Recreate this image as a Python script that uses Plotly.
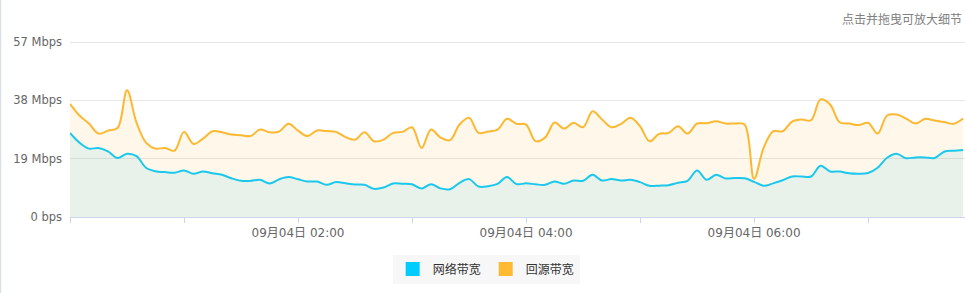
import plotly.graph_objects as go
import pandas as pd

# 5-minute samples, 09-04 00:00 .. 07:50
times = pd.date_range("2023-09-04 00:00", periods=95, freq="5min")

network_mbps = [
    27.42, 24.24, 22.28, 22.51, 21.39, 19.23, 20.64, 19.82, 16.05, 14.91,
    14.64, 14.41, 15.17, 14.09, 14.84, 14.25, 13.76, 12.61, 11.79, 11.79,
    12.12, 10.91, 12.28, 13.01, 12.28, 11.56, 11.56, 10.48, 11.37, 10.97,
    10.58, 10.48, 9.17, 9.60, 10.91, 10.81, 10.65, 9.27, 10.71, 9.34,
    9.07, 11.14, 12.35, 9.93, 10.06, 10.81, 13.01, 10.71, 10.97, 10.65,
    10.48, 11.56, 10.81, 11.89, 11.79, 13.76, 11.89, 12.35, 11.89, 12.12,
    11.37, 10.16, 10.22, 10.38, 11.14, 11.79, 15.17, 12.12, 13.76, 12.55,
    12.71, 12.61, 11.47, 10.16, 10.97, 11.96, 13.20, 13.20, 13.20, 16.71,
    14.84, 14.84, 14.25, 14.09, 14.32, 16.05, 19.33, 20.64, 19.16, 19.43,
    19.43, 19.23, 21.29, 21.62, 21.85,
]

origin_mbps = [
    36.92, 33.09, 30.47, 27.19, 28.17, 28.99, 41.28, 30.79, 24.24, 22.28,
    22.51, 21.62, 27.75, 23.82, 25.55, 27.94, 27.62, 26.86, 26.63, 26.37,
    28.50, 27.62, 27.84, 30.37, 28.17, 26.37, 28.17, 28.01, 27.75, 26.04,
    25.22, 27.62, 24.67, 25.22, 27.42, 27.75, 29.25, 22.51, 28.50, 25.88,
    25.06, 30.14, 32.33, 27.42, 27.84, 28.50, 32.00, 30.37, 30.14, 24.73,
    25.88, 30.79, 28.83, 30.70, 29.25, 34.49, 31.78, 29.25, 30.37, 32.33,
    29.58, 24.67, 27.09, 27.42, 29.58, 27.19, 30.47, 30.56, 31.22, 30.47,
    30.47, 30.14, 12.45, 22.51, 27.94, 27.94, 31.12, 31.78, 31.55, 38.33,
    36.69, 30.89, 30.47, 29.97, 30.70, 27.19, 33.09, 33.41, 32.10, 30.47,
    32.00, 31.45, 30.96, 30.37, 32.10,
]

series_names = ["网络带宽", "回源带宽"]
y_tick_vals = [0, 19, 38, 57]
y_tick_text = ["0 bps", "19 Mbps", "38 Mbps", "57 Mbps"]
x_tick_vals = pd.date_range("2023-09-04 00:00", periods=8, freq="1h")
x_tick_text = ["", "", "09月04日 02:00", "", "09月04日 04:00", "", "09月04日 06:00", ""]
subtitle = "点击并拖曳可放大细节"

BLUE = "#1bc8ed"
ORANGE = "#fdb831"
FONT = "DejaVu Sans, Noto Sans CJK SC, sans-serif"
CJK = "Noto Sans CJK SC, sans-serif"

fig = go.Figure()
fig.add_trace(go.Scatter(
    x=times, y=origin_mbps, mode="lines", name=series_names[1],
    line=dict(color=ORANGE, width=2, shape="spline", smoothing=1),
    fill="tozeroy", fillcolor="rgba(253,184,49,0.1)", showlegend=False,
    hoverinfo="skip",
))
fig.add_trace(go.Scatter(
    x=times, y=network_mbps, mode="lines", name=series_names[0],
    line=dict(color=BLUE, width=2, shape="spline", smoothing=1),
    fill="tozeroy", fillcolor="rgba(27,200,237,0.1)", showlegend=False,
    hoverinfo="skip",
))
# legend entries
fig.add_trace(go.Scatter(x=[None], y=[None], mode="markers", name=series_names[0],
                         marker=dict(symbol="square", size=14, color="#00ccff")))
fig.add_trace(go.Scatter(x=[None], y=[None], mode="markers", name=series_names[1],
                         marker=dict(symbol="square", size=14, color="#ffb933")))

TOP = 40
BOTTOM = 217
plot_w = 965 - 70
plot_h = BOTTOM - TOP

fig.update_layout(
    width=965, height=293,
    margin=dict(l=70, r=0, t=TOP, b=293 - BOTTOM),
    paper_bgcolor="white", plot_bgcolor="white",
    font=dict(family=FONT, size=11, color="#666666"),
    title=dict(text=subtitle, x=962 / 965, xanchor="right", xref="container",
               y=1 - 20 / 293, yanchor="middle", yref="container",
               font=dict(family=CJK, size=12, color="#808080")),
    legend=dict(orientation="h", x=0.465, xanchor="center", y=-(269 - BOTTOM) / plot_h,
                yanchor="middle", bgcolor="#f7f7f7", font=dict(family=CJK, size=12, color="#333333"),
                itemwidth=30, tracegroupgap=0),
    xaxis=dict(
        type="date",
        range=[pd.Timestamp("2023-09-04 00:00"), pd.Timestamp("2023-09-04 00:00") + pd.Timedelta(minutes=471)],
        tickvals=x_tick_vals, ticktext=x_tick_text,
        ticks="outside", ticklen=5, tickcolor="#ccd6eb", tickwidth=1,
        showline=True, linecolor="#ccd6eb", linewidth=1,
        showgrid=False, zeroline=False,
        tickfont=dict(family=FONT, size=12, color="#666666"),
    ),
    yaxis=dict(
        range=[0, 57.7], tickvals=y_tick_vals, ticktext=y_tick_text,
        showgrid=True, gridcolor="#e6e6e6", gridwidth=1,
        zeroline=False, showline=False, ticks="",
        ticklabelstandoff=7,
        tickfont=dict(family=FONT, size=11.5, color="#666666"),
    ),
    shapes=[dict(type="line", xref="paper", yref="paper",
                 x0=-69.5 / plot_w, x1=-69.5 / plot_w, y0=-(293 - BOTTOM) / plot_h, y1=(plot_h + TOP) / plot_h,
                 line=dict(color="#d6deea", width=1.5))],
)

fig.write_html("out.html")
